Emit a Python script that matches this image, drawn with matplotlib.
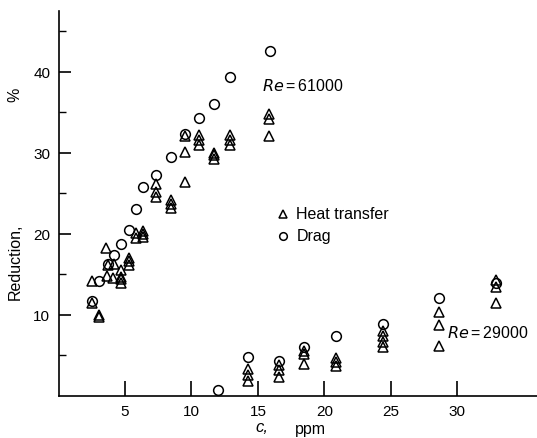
import matplotlib
matplotlib.use("Agg")
import matplotlib.pyplot as plt
from matplotlib.ticker import FixedLocator

# Re = 61000
heat61_c = [2.5, 3.05, 3.05, 2.5, 3.6, 3.7, 4.2, 3.65, 4.1, 4.7, 4.7, 4.7, 4.7,
            5.3, 5.3, 5.3, 5.8, 5.8, 6.35, 6.35, 6.35, 7.3, 7.3, 7.3,
            8.45, 8.45, 8.45, 9.5, 9.5, 9.5, 10.6, 10.6, 10.6, 11.7, 11.7, 11.7,
            12.9, 12.9, 12.9, 15.8, 15.8, 15.8]
heat61_y = [11.5, 9.7, 10.0, 14.2, 18.3, 16.2, 16.3, 14.8, 14.5, 15.5, 14.0, 14.4, 14.7,
            16.2, 16.6, 17.0, 19.5, 20.1, 19.6, 20.0, 20.4, 26.2, 24.6, 25.2,
            23.2, 23.7, 24.2, 30.1, 26.4, 32.1, 31.0, 31.6, 32.2, 29.3, 29.7, 30.0,
            31.0, 31.6, 32.2, 34.8, 34.2, 32.1]
drag61_c = [2.5, 3.05, 4.2, 3.7, 4.7, 5.3, 5.8, 6.35, 7.3, 8.45, 9.5, 10.6, 11.7, 12.9, 15.9]
drag61_y = [11.7, 14.2, 17.4, 16.3, 18.7, 20.5, 23.1, 25.8, 27.3, 29.5, 32.3, 34.3, 36.0, 39.4, 42.6]

# Re = 29000
heat29_c = [14.25, 14.25, 14.25, 16.6, 16.6, 16.6, 18.5, 18.5, 18.5, 20.9, 20.9, 20.9,
            24.4, 24.4, 24.4, 24.4, 28.6, 28.6, 28.6, 32.9, 32.9, 32.9]
heat29_y = [3.3, 2.6, 1.9, 3.8, 3.2, 2.4, 5.6, 5.2, 4.0, 4.7, 4.2, 3.7,
            8.0, 7.4, 6.7, 6.0, 10.4, 8.8, 6.2, 14.3, 13.5, 11.5]
drag29_c = [12.0, 14.25, 16.6, 18.5, 20.9, 24.4, 28.6, 32.9]
drag29_y = [0.8, 4.8, 4.3, 6.0, 7.4, 8.9, 12.1, 13.9]

x_ticks = [5, 10, 15, 20, 25, 30]
y_ticks = [10, 20, 30, 40]
y_minor = [5, 15, 25, 35, 45]

plt.rcParams['font.family'] = ['Liberation Sans', 'DejaVu Sans']

fig = plt.figure(figsize=(5.37, 4.39), dpi=100)
ax = fig.add_axes([0.109, 0.0957, 0.891, 0.877])

mk = dict(linestyle='none', markerfacecolor='none', markeredgecolor='black',
          markeredgewidth=1.1, markersize=7)
ax.plot(heat61_c + heat29_c, heat61_y + heat29_y, marker='^', **mk)
ax.plot(drag61_c + drag29_c, drag61_y + drag29_y, marker='o', **mk)

ax.set_xlim(0, 36)
ax.set_ylim(0, 47.5)

for s in ['top', 'right']:
    ax.spines[s].set_visible(False)
for s in ['left', 'bottom']:
    ax.spines[s].set_linewidth(1.2)

ax.xaxis.set_major_locator(FixedLocator(x_ticks))
ax.yaxis.set_major_locator(FixedLocator(y_ticks))
ax.yaxis.set_minor_locator(FixedLocator(y_minor))
ax.tick_params(axis='x', which='major', direction='in', length=11, width=1.2,
               labelsize=11, pad=6)
ax.tick_params(axis='y', which='major', direction='in', length=8.5, width=1.2,
               labelsize=11, pad=6)
ax.tick_params(axis='y', which='minor', direction='in', length=5, width=1.0)

# Axis labels
fig.text(15 / 537, 1 - 262 / 439, 'Reduction,', rotation=90, ha='center', va='center',
         fontsize=11.5)
fig.text(15 / 537, 1 - 95 / 439, '%', rotation=90, ha='center', va='center', fontsize=11.5)
fig.text(262 / 537, 1 - 428 / 439, 'c,', ha='center', va='center', fontsize=12,
         style='italic')
fig.text(310 / 537, 1 - 430 / 439, 'ppm', ha='center', va='center', fontsize=11.5)

# Annotations
ax.text(15.3, 38.4, r'$\it{Re}\,$=$\,$61000', fontsize=11.5, ha='left', va='center')
ax.text(29.2, 7.9, r'$\it{Re}\,$=$\,$29000', fontsize=11.5, ha='left', va='center')

# Legend
ax.plot([16.9], [22.5], marker='^', **dict(mk, markersize=6))
ax.text(17.9, 22.5, 'Heat transfer', fontsize=11.5, ha='left', va='center')
ax.plot([16.9], [19.8], marker='o', **dict(mk, markersize=5.5))
ax.text(17.9, 19.8, 'Drag', fontsize=11.5, ha='left', va='center')

fig.savefig('out.png', dpi=100)
